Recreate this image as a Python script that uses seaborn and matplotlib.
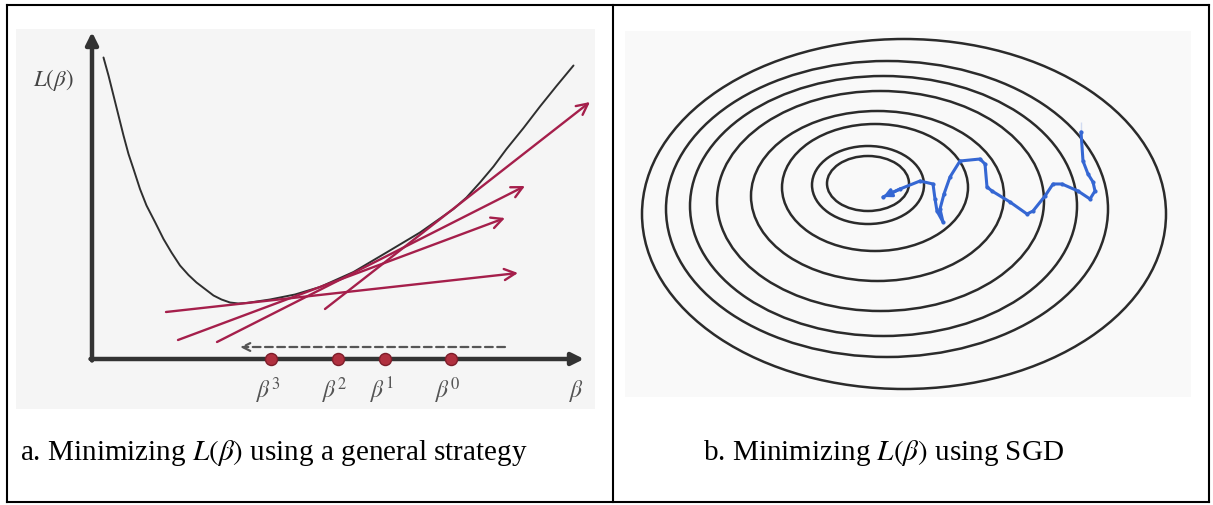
import matplotlib
matplotlib.use("Agg")
import matplotlib.pyplot as plt
from matplotlib.patches import Ellipse
from matplotlib.lines import Line2D
import pandas as pd
import seaborn as sns

# ---- panel a: loss curve and tangent steps ----
curve_beta = [0.23, 0.33, 0.43, 0.53, 0.63, 0.73, 0.83, 0.96, 1.09, 1.26, 1.43,
              1.59, 1.76, 1.93, 2.09, 2.26, 2.43, 2.59, 2.76, 2.93, 3.09, 3.56,
              4.06, 4.56, 5.23, 5.89, 6.56, 7.23, 7.49, 7.76, 8.03, 8.29, 8.63,
              8.96, 9.29, 9.63]
curve_loss = [6.03, 5.67, 5.27, 4.87, 4.47, 4.10, 3.80, 3.40, 3.07, 2.74, 2.40,
              2.13, 1.87, 1.68, 1.53, 1.40, 1.27, 1.19, 1.13, 1.11, 1.12, 1.19,
              1.29, 1.44, 1.74, 2.13, 2.53, 3.00, 3.23, 3.53, 3.85, 4.20, 4.62,
              5.05, 5.46, 5.87]

iter_labels = [r"$\beta^3$", r"$\beta^2$", r"$\beta^1$", r"$\beta^0$"]
iter_beta = [3.58, 4.92, 5.86, 7.18]

# tangent arrows (start -> end)
tan_x0 = [1.48, 1.72, 2.50, 4.66]
tan_y0 = [0.94, 0.38, 0.34, 1.00]
tan_x1 = [8.52, 8.26, 8.66, 9.96]
tan_y1 = [1.72, 2.82, 3.46, 5.14]

# ---- panel b: loss contours and SGD trajectory ----
ell_cx = [-0.72, -0.72, -0.58, -0.53, -0.47, -0.41, -0.34, 0.00]
ell_cy = [0.61, 0.58, 0.53, 0.36, 0.26, 0.16, 0.10, 0.00]
ell_a = [0.82, 1.12, 1.86, 2.53, 3.27, 3.87, 4.42, 5.24]
ell_b = [0.55, 0.78, 1.27, 1.70, 2.20, 2.60, 2.96, 3.50]

sgd_w1 = [3.54, 3.54, 3.58, 3.68, 3.78, 3.82, 3.72, 3.48, 3.16, 2.98, 2.82, 2.58,
          2.46, 2.12, 1.76, 1.66, 1.62, 1.52, 1.12, 0.92, 0.80, 0.72, 0.78, 0.66,
          0.62, 0.58, 0.32, -0.08, -0.42]
sgd_w2 = [1.84, 1.44, 1.06, 0.80, 0.64, 0.46, 0.30, 0.46, 0.60, 0.60, 0.36, 0.06,
          0.00, 0.24, 0.46, 0.54, 1.00, 1.10, 1.06, 0.74, 0.40, 0.10, -0.16, 0.06,
          0.30, 0.60, 0.66, 0.50, 0.34]

captions = [r"a. Minimizing $L(\beta)$ using a general strategy",
            r"b. Minimizing $L(\beta)$ using SGD"]

sns.set_theme(style="white")
plt.rcParams["font.family"] = ["Liberation Serif", "DejaVu Serif"]
plt.rcParams["mathtext.fontset"] = "stix"

W, H = 1213, 506
fig = plt.figure(figsize=(W / 100, H / 100), dpi=100)
fig.patch.set_facecolor("white")


def px_axes(x0, y0, x1, y1):
    return fig.add_axes([x0 / W, 1 - y1 / H, (x1 - x0) / W, (y1 - y0) / H])


RED = "#a51f4b"
INK = "#333333"

# ---------------- panel a ----------------
ax = px_axes(16, 30, 595, 410)
ax.set_facecolor("#f5f5f5")
ax.set_xlim(-1.52, 10.06)
ax.set_ylim(-1.0, 6.6)
for s in ax.spines.values():
    s.set_visible(False)

# coordinate axes with arrow heads
ax.annotate("", xy=(0, 6.54), xytext=(0, -0.03),
            arrowprops=dict(arrowstyle="-|>", color=INK, lw=3.2, mutation_scale=18,
                            shrinkA=0, shrinkB=0))
ax.annotate("", xy=(9.84, 0), xytext=(-0.03, 0),
            arrowprops=dict(arrowstyle="-|>", color=INK, lw=3.2, mutation_scale=18,
                            shrinkA=0, shrinkB=0))

curve = pd.DataFrame({"beta": curve_beta, "loss": curve_loss})
sns.lineplot(data=curve, x="beta", y="loss", sort=False, color="#2f2f2f",
             lw=1.4, ax=ax)

for x0, y0, x1, y1 in zip(tan_x0, tan_y0, tan_x1, tan_y1):
    ax.annotate("", xy=(x1, y1), xytext=(x0, y0),
                arrowprops=dict(arrowstyle="->", color=RED, lw=1.7,
                                mutation_scale=20, shrinkA=0, shrinkB=0))

# dashed arrow showing the direction of the iterates
ax.annotate("", xy=(2.96, 0.24), xytext=(8.26, 0.24),
            arrowprops=dict(arrowstyle="->", color="#555555", lw=1.6,
                            linestyle=(0, (3.5, 2.0)), mutation_scale=14,
                            shrinkA=0, shrinkB=0))

sns.scatterplot(x=iter_beta, y=[0] * len(iter_beta), s=75, color="#b0303f",
                edgecolor="#7d1d2a", linewidth=1.0, zorder=5, ax=ax)

for xb, lab in zip(iter_beta, iter_labels):
    ax.text(xb - 0.06, -0.62, lab, ha="center", va="center", fontsize=17,
            color="#555555")
ax.text(9.70, -0.62, r"$\beta$", ha="center", va="center", fontsize=17,
        color="#555555")
ax.text(-0.36, 5.6, r"$L(\beta)$", ha="right", va="center", fontsize=16.5,
        color="#444444")
ax.set_xlabel("")
ax.set_ylabel("")
ax.set_xticks([])
ax.set_yticks([])

# ---------------- panel b ----------------
bx = px_axes(625, 32, 1191, 398)
bx.set_facecolor("#f9f9f9")
bx.set_xlim(-5.58, 5.74)
bx.set_ylim(-3.66, 3.66)
for s in bx.spines.values():
    s.set_visible(False)

for cx, cy, a, b in zip(ell_cx, ell_cy, ell_a, ell_b):
    bx.add_patch(Ellipse((cx, cy), 2 * a, 2 * b, fill=False, ec="#2b2b2b", lw=1.8))

BLUE = "#3567d3"
path = pd.DataFrame({"w1": sgd_w1, "w2": sgd_w2})
sns.lineplot(data=path, x="w1", y="w2", sort=False, color=BLUE, lw=2.2,
             marker="o", markersize=3.0, markeredgewidth=0, ax=bx, zorder=4)
bx.annotate("", xy=(sgd_w1[-1], sgd_w2[-1]), xytext=(sgd_w1[-2], sgd_w2[-2]),
            arrowprops=dict(arrowstyle="-|>", color=BLUE, lw=2.2,
                            mutation_scale=12, shrinkA=0, shrinkB=0), zorder=5)
bx.set_xlabel("")
bx.set_ylabel("")
bx.set_xticks([])
bx.set_yticks([])

# ---------------- captions and table rules ----------------
fig.text(20 / W, 1 - 460 / H, captions[0], fontsize=21, ha="left", va="baseline",
         color="black")
fig.text(703 / W, 1 - 460 / H, captions[1], fontsize=21, ha="left", va="baseline",
         color="black")

for (x0, y0, x1, y1) in [(7, 6, 1209, 6), (7, 503, 1209, 503), (7, 6, 7, 503),
                         (1209, 6, 1209, 503), (613, 6, 613, 503)]:
    fig.add_artist(Line2D([x0 / W, x1 / W], [1 - y0 / H, 1 - y1 / H],
                          color="black", lw=1.5, solid_capstyle="projecting"))

fig.savefig("out.png", dpi=100, facecolor="white")
